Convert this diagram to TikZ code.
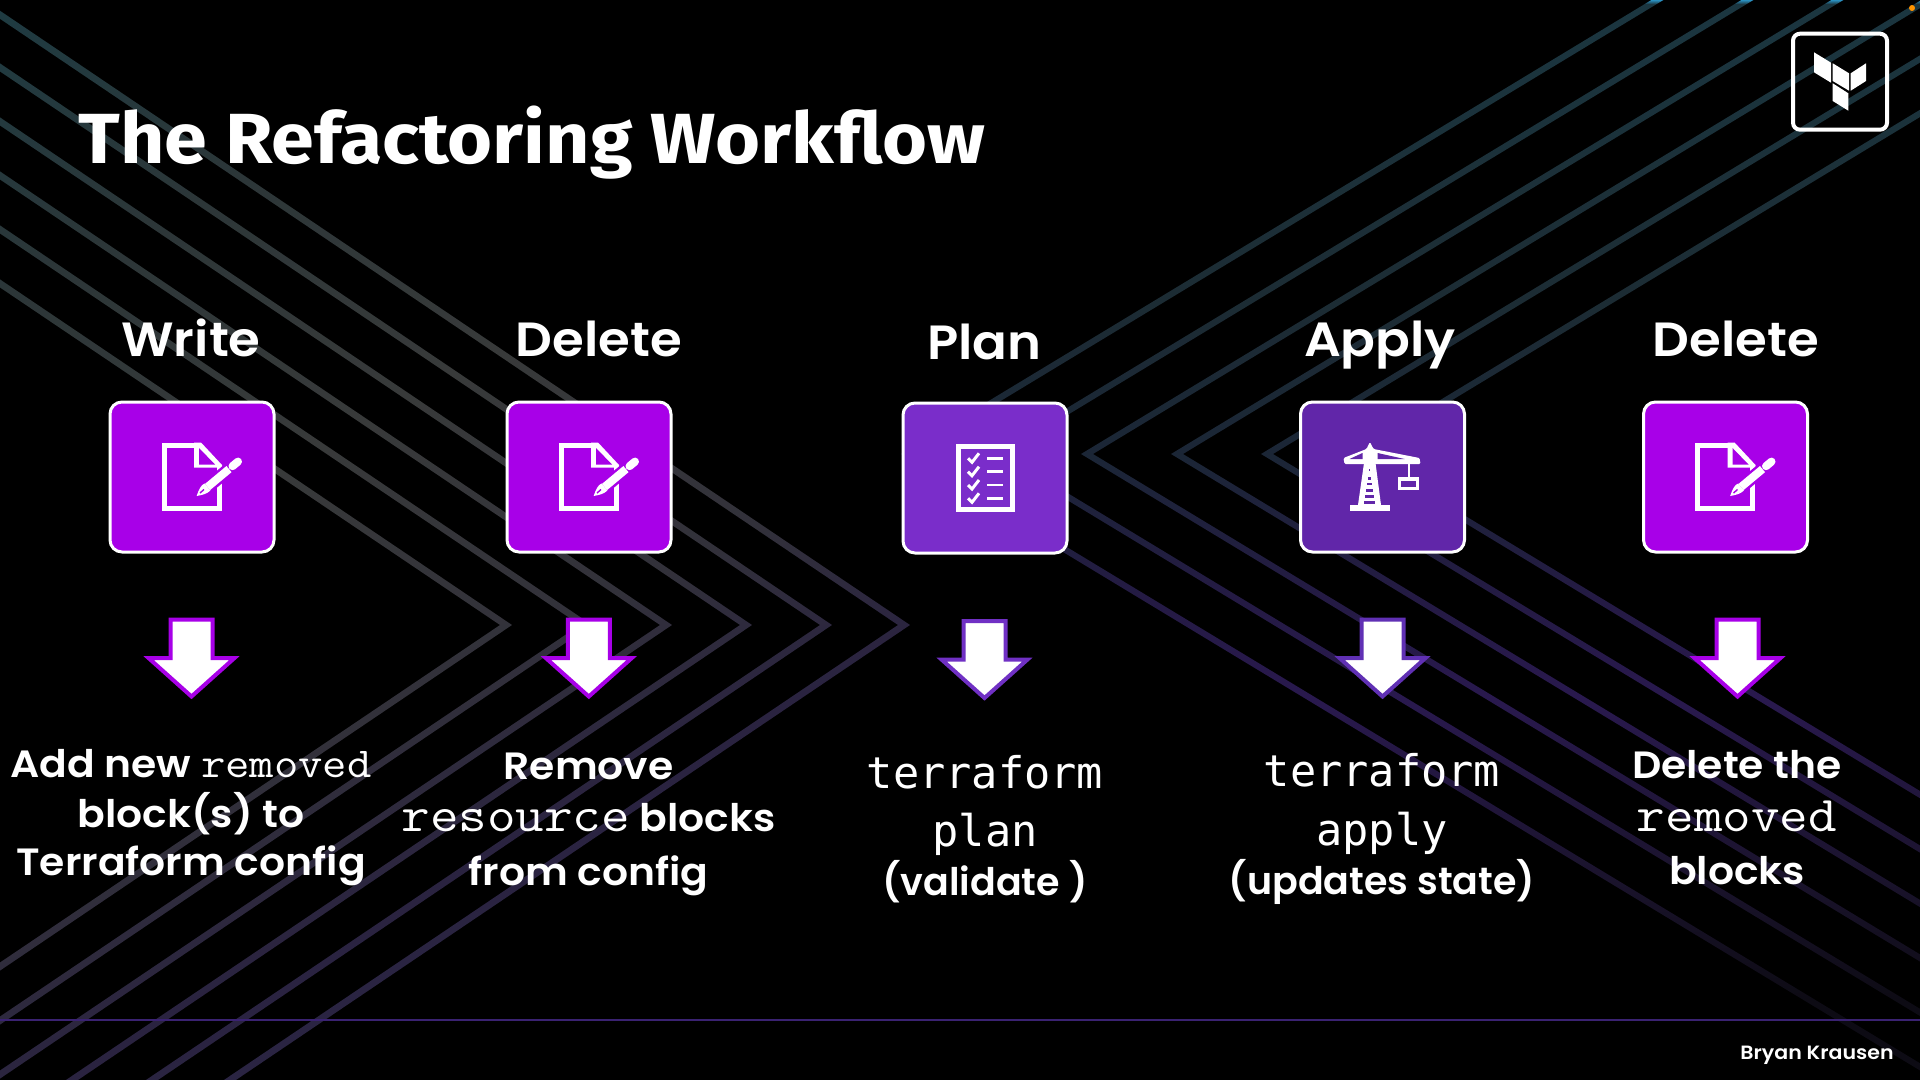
\documentclass[tikz,border=0pt]{standalone}
\usepackage{fontspec}
\setmainfont{Poppins}
\newfontfamily\titlefont[FakeStretch=1.087]{Fira Sans Bold}
\newfontfamily\headfont[FakeStretch=1.07]{Poppins SemiBold}
\newfontfamily\bodyfont[FakeStretch=1.075]{Poppins SemiBold}
\newfontfamily\notefont{Poppins SemiBold}
\newfontfamily\cmdfont{DejaVu Sans Mono}
\newfontfamily\thinmono[FakeStretch=1.11]{Latin Modern Mono}
\definecolor{bgblack}{HTML}{000000}
\definecolor{vivid}{HTML}{A800E8}
\definecolor{planbg}{HTML}{7A2DCA}
\definecolor{applybg}{HTML}{6126A9}
\definecolor{planarrow}{HTML}{7030C4}
\definecolor{applyarrow}{HTML}{6030B4}
\definecolor{rule}{HTML}{3A2272}
% gradients of the background chevrons
\definecolor{lA}{HTML}{1E3B42}\definecolor{lB}{HTML}{2C3638}\definecolor{lC}{HTML}{383A3A}
\definecolor{lD}{HTML}{32313A}\definecolor{lE}{HTML}{2A2340}\definecolor{lF}{HTML}{2A2545}
\definecolor{rA}{HTML}{2A90C0}\definecolor{rB}{HTML}{1B3640}\definecolor{rC}{HTML}{1C2C34}
\definecolor{rD}{HTML}{1B2636}\definecolor{rE}{HTML}{241A44}\definecolor{rF}{HTML}{29194E}
\definecolor{rG}{HTML}{1A132C}\definecolor{rH}{HTML}{0D0B14}
\pgfdeclareverticalshading{leftgrad}{3000bp}{color(0bp)=(lF); color(421bp)=(lF); color(510bp)=(lE);
  color(599bp)=(lD); color(733bp)=(lC); color(866bp)=(lB); color(1000bp)=(lA)}
\pgfdeclareverticalshading{rightgrad}{5000bp}{color(0bp)=(rH); color(502bp)=(rH);
  color(562bp)=(rG); color(651bp)=(rF); color(701bp)=(rE); color(774bp)=(rD); color(851bp)=(rC);
  color(998bp)=(rB); color(1000bp)=(rA)}
\newcommand{\shortmono}[1]{{\fontsize{21.3}{24}\thinmono #1}}
\newcommand{\widemono}[1]{{\fontsize{25}{29}\thinmono #1}}
\tikzset{
  tile/.style={draw=white,line width=1.5pt,rounded corners=6pt,minimum width=82pt,minimum height=75pt,outer sep=0pt,inner sep=0pt},
  headtext/.style={text=white,anchor=base,font=\fontsize{24}{28}\headfont,inner sep=0pt},
  bodytext/.style={text=white,anchor=base,font=\fontsize{19}{23}\bodyfont,inner sep=0pt},
  notetext/.style={text=white,anchor=base,font=\fontsize{19}{23}\notefont,inner sep=0pt},
  cmdtext/.style={text=white,anchor=base,font=\fontsize{21.8}{26}\cmdfont,inner sep=0pt},
  docicon/.pic={
    \draw[white,line width=2.5pt,miter limit=4] (7,-32) -- (-28,-32) -- (-28,31) -- (27,31) -- (27,-12);
    \fill[white] (4,-34.5) -- (9,-34.5) -- (30,-12) -- (30,-9.5) -- (2,-9.5) -- (2,-34.5) -- cycle;
    \fill[vivid] (7,-29) -- (23,-12.5) -- (7,-12.5) -- cycle;
    \draw[vivid,line width=6.5pt] (11,13.8) -- (50,-18.7);
    \draw[white,line width=4pt] (15.5,10) -- (37,-7.9);
    \draw[white,line width=4pt,line cap=round] (40.5,-10.8) -- (46,-15.4);
    \fill[white] (4.7,19) .. controls (7,12) and (9,8) .. (12.6,6.5) -- (18.4,13.5) .. controls (15,17) and (10,18) .. cycle;
    \draw[vivid,line width=.7pt] (8,16) -- (12,12.5);
  },
  planicon/.pic={
    \draw[white,line width=2.5pt] (-26.5,-31.5) rectangle (27.5,31.5);
    \foreach \rowy in {-19.7,-6.3,7,20.3}{
      \draw[white,line width=1.5pt] (-17,{\rowy}) -- (-13,{\rowy+4}) -- (-6,{\rowy-5});
      \draw[white,line width=1.3pt] (2,{\rowy}) -- (18,{\rowy});
    }
  },
  craneicon/.pic={
    \fill[white,rounded corners=.6pt] (-12.6,-35) -- (-9,-28) -- (37,-19) -- (38,-13) -- (-38,-13) -- (-39,-19) -- (-16,-28) -- cycle;
    \fill[applybg] (-5,-24) -- (22,-18) -- (-5,-18) -- cycle;
    \fill[applybg] (-20,-24) -- (-33,-18) -- (-20,-18) -- cycle;
    \fill[white] (-18.5,-14) -- (-7,-14) -- (-1.5,28) -- (-24.5,28) -- cycle;
    \foreach \stripey/\stripew in {-7/.6,1.3/1.5,7/2.5,13.7/3.5,19.7/4.5,25.3/5.5}{
      \fill[applybg] ({-13-\stripew},{\stripey-1.3}) rectangle ({-13+\stripew},{\stripey+1.3});
    }
    \fill[white] (-33,27.5) rectangle (7.5,33.7);
    \draw[white,line width=1pt] (26.4,-14) -- (26.4,1);
    \draw[white,line width=1.75pt] (16.8,2) rectangle (35.2,11.3);
  },
  downarrow/.pic={
    \filldraw[draw=#1,fill=white,line width=2pt,miter limit=10]
      (-21,0) -- (21,0) -- (21,38.5) -- (43,38.5) -- (0,77) -- (-43,38.5) -- (-21,38.5) -- cycle;
  }
}
\begin{document}
\begin{tikzpicture}[x=0.5pt,y=-0.5pt]
\useasboundingbox (0,0) rectangle (1920,1080);
\fill[bgblack] (0,0) rectangle (1920,1080);
% left chevrons
\begin{scope}
  \clip (0,0) rectangle (1920,1080);
  \clip \foreach \a in {506,586,666,746,826,904}{
    ({\a+6},625) -- ({\a+6-1000},-50) -- ({\a-6-1000},-50) -- ({\a-6},625) -- ({\a-6-1000},1300) -- ({\a+6-1000},1300) -- cycle
  };
  \pgftransformrotate{26.6}
  \pgftransformshift{\pgfpoint{0bp}{-500bp}}
  \pgflowlevelsynccm
  \pgfuseshading{leftgrad}
\end{scope}
% right chevrons
\begin{scope}
  \clip (0,0) rectangle (1920,1080);
  \clip \foreach \a in {907,997,1087,1177,1267,1357}{
    ({\a-6},454) -- ({\a-6+1200},{454-726}) -- ({\a+6+1200},{454-726}) -- ({\a+6},454) -- ({\a+6+1200},{454+726}) -- ({\a-6+1200},{454+726}) -- cycle
  };
  \pgftransformshift{\pgfpoint{0bp}{-500bp}}
  \pgflowlevelsynccm
  \pgfuseshading{rightgrad}
\end{scope}
% footer rule and logo
\draw[rule,line width=1pt] (0,1020) -- (1920,1020);
\fill[orange!85!yellow] (1912,8) circle (3);
\node[draw=white,line width=2pt,rounded corners=3.5pt,minimum width=47pt,minimum height=48pt,inner sep=0pt,outer sep=0pt] (logo) at (1840,81.7) {};
\fill[white] (1814,52.3) -- (1831,62.7) -- (1831,82.7) -- (1814,72.3) -- cycle;
\fill[white] (1832.7,63.3) -- (1849,73.3) -- (1849,90.7) -- (1832.7,81) -- cycle;
\fill[white] (1850.7,73.3) -- (1866,63.3) -- (1866,81) -- (1850.7,90.7) -- cycle;
\fill[white] (1832.7,83.3) -- (1848.3,93.3) -- (1848.3,110.7) -- (1832.7,101) -- cycle;
% title
\node[text=white,anchor=base west,inner sep=0pt,font=\fontsize{35.5}{40}\titlefont] (title) at (78,164) {The Refactoring Workflow};
% headings
\node[headtext] (h1) at (191,357) {Write};
\node[headtext] (h2) at (599,357) {Delete};
\node[headtext] (h3) at (984.5,359) {Plan};
\node[headtext] (h4) at (1380,357) {Apply};
\node[headtext] (h5) at (1736,357) {Delete};
% tiles
\node[tile,fill=vivid] (box1) at (192,477) {};
\node[tile,fill=vivid] (box2) at (589,477) {};
\node[tile,fill=planbg] (box3) at (985,478) {};
\node[tile,fill=applybg] (box4) at (1382.5,477) {};
\node[tile,fill=vivid] (box5) at (1725.5,477) {};
\pic at (box1.center) {docicon};
\pic at (box2.center) {docicon};
\pic at (box3.center) {planicon};
\pic at (box4.center) {craneicon};
\pic at (box5.center) {docicon};
% arrows
\pic at (191.5,619.5) {downarrow=vivid};
\pic at (588.8,619.5) {downarrow=vivid};
\pic at (984.5,621) {downarrow=planarrow};
\pic at (1382.5,619.5) {downarrow=applyarrow};
\pic at (1737.5,619.5) {downarrow=vivid};
% column 1
\node[bodytext] (t1a) at (191,777) {Add new \shortmono{removed}};
\node[bodytext] (t1b) at (191,827) {block(s) to};
\node[bodytext] (t1c) at (191,875) {Terraform config};
% column 2
\node[bodytext] (t2a) at (588.6,779) {Remove};
\node[bodytext] (t2b) at (588.6,831) {\widemono{resource} blocks};
\node[bodytext] (t2c) at (588.6,885) {from config};
% column 3
\node[cmdtext] (t3a) at (985,788) {terraform};
\node[cmdtext] (t3b) at (985,846) {plan};
\node[notetext] (t3c) at (985,895) {(validate )};
% column 4
\node[cmdtext] (t4a) at (1382,786) {terraform};
\node[cmdtext] (t4b) at (1382,845) {apply};
\node[notetext] (t4c) at (1382,894) {(updates state)};
% column 5
\node[bodytext] (t5a) at (1737,778) {Delete the};
\node[bodytext] (t5b) at (1737,831) {\widemono{removed}};
\node[bodytext] (t5c) at (1737,884) {blocks};
% author
\node[text=white,anchor=base east,inner sep=0pt,font=\fontsize{9.6}{11}\headfont] (author) at (1894,1059) {Bryan Krausen};
\end{tikzpicture}
\end{document}
